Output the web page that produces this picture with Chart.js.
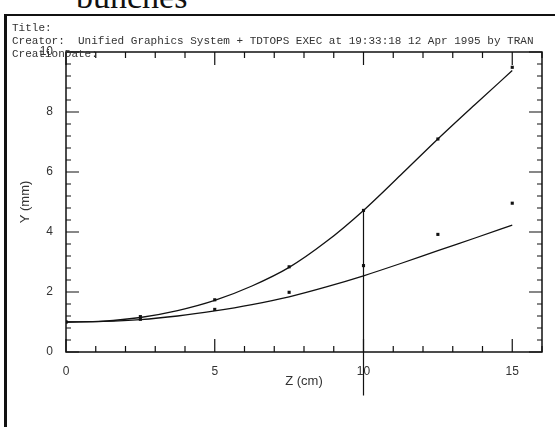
<html lang="en">
<head>
<meta charset="UTF-8">
<title>bunches</title>
<script src="https://cdn.jsdelivr.net/npm/chart.js"></script>
<style>
  body, html {
    margin: 0;
    background: #fff;
  }
  .page {
    position: relative;
    width: 555px;
    height: 427px;
    overflow: hidden;
  }
  .caption {
    position: absolute;
    left: 76px;
    top: -22px;
    font-family: "Liberation Serif", serif;
    font-size: 34px;
    color: #111;
  }
  .frame {
    position: absolute;
    left: 4px;
    top: 14px;
    width: 560px;
    height: 420px;
    border-left: 3px solid #111;
    border-top: 2px solid #111;
  }
  .header {
    position: absolute;
    left: 12px;
    top: 22px;
    font-family: "Liberation Mono", monospace;
    font-size: 11px;
    line-height: 13px;
    color: #333;
    white-space: pre;
  }
  .chart-box {
    position: absolute;
    left: 0;
    top: 0;
    width: 555px;
    height: 427px;
  }
</style>
</head>
<body>
<div class="page">
  <div class="caption">bunches</div>
  <div class="frame"></div>
  <div class="chart-box"><canvas id="envChart"></canvas></div>
  <div class="header">Title:
Creator:  Unified Graphics System + TDTOPS EXEC at 19:33:18 12 Apr 1995 by TRAN
CreationDate:</div>
</div>

<script>
  // fitted curves
  const zCurve     = [0, 1.25, 2.5, 3.75, 5, 6.25, 7.5, 8.75, 10, 11.25, 12.5, 13.75, 15];
  const upperCurve = [1.0, 1.03, 1.15, 1.38, 1.72, 2.2, 2.82, 3.68, 4.72, 5.9, 7.1, 8.25, 9.38];
  const lowerCurve = [1.0, 1.02, 1.08, 1.2, 1.37, 1.58, 1.84, 2.17, 2.54, 2.95, 3.38, 3.8, 4.23];

  // measured points
  const zPoints     = [0, 2.5, 5, 7.5, 10, 12.5, 15];
  const upperPoints = [1.0, 1.18, 1.74, 2.84, 4.72, 7.1, 9.49];
  const lowerPoints = [1.0, 1.09, 1.42, 1.99, 2.88, 3.92, 4.96];

  // vertical marker at z = 10
  const markerZ = [10, 10];
  const markerY = [4.72, -1.45];

  function toXY(xs, ys) {
    return xs.map((x, i) => ({ x: x, y: ys[i] }));
  }

  const ink = '#111';

  // axis box with inward ticks on all four sides
  const frameTicks = {
    id: 'frameTicks',
    afterDraw(chart) {
      const ctx = chart.ctx;
      const ca = chart.chartArea;
      const xs = chart.scales.x;
      const ys = chart.scales.y;
      ctx.save();
      ctx.strokeStyle = ink;
      ctx.lineWidth = 1.5;
      ctx.strokeRect(ca.left, ca.top, ca.right - ca.left, ca.bottom - ca.top);
      ctx.lineWidth = 1.2;
      ctx.beginPath();
      xs.ticks.forEach(t => {
        const px = xs.getPixelForValue(t.value);
        const major = Math.abs(t.value % 5) < 1e-6;
        const len = major ? 13 : 6;
        ctx.moveTo(px, ca.bottom); ctx.lineTo(px, ca.bottom - len);
        ctx.moveTo(px, ca.top); ctx.lineTo(px, ca.top + len);
      });
      ys.ticks.forEach(t => {
        const py = ys.getPixelForValue(t.value);
        const major = Math.abs(t.value - 2 * Math.round(t.value / 2)) < 1e-6;
        const len = major ? 13 : 5;
        ctx.moveTo(ca.left, py); ctx.lineTo(ca.left + len, py);
        ctx.moveTo(ca.right, py); ctx.lineTo(ca.right - len, py);
      });
      ctx.stroke();
      ctx.restore();
    }
  };

  const ctx = document.getElementById('envChart').getContext('2d');
  new Chart(ctx, {
    type: 'scatter',
    data: {
      datasets: [
        {
          data: toXY(zCurve, upperCurve),
          showLine: true,
          borderColor: ink,
          borderWidth: 1.3,
          pointRadius: 0,
          cubicInterpolationMode: 'monotone'
        },
        {
          data: toXY(zCurve, lowerCurve),
          showLine: true,
          borderColor: ink,
          borderWidth: 1.3,
          pointRadius: 0,
          cubicInterpolationMode: 'monotone'
        },
        {
          data: toXY(zPoints, upperPoints),
          pointStyle: 'rect',
          pointRadius: 2.2,
          backgroundColor: ink,
          borderColor: ink,
          borderWidth: 0
        },
        {
          data: toXY(zPoints, lowerPoints),
          pointStyle: 'rect',
          pointRadius: 2.2,
          backgroundColor: ink,
          borderColor: ink,
          borderWidth: 0
        },
        {
          data: toXY(markerZ, markerY),
          showLine: true,
          borderColor: ink,
          borderWidth: 1.2,
          pointRadius: 0,
          clip: false
        }
      ]
    },
    options: {
      responsive: true,
      maintainAspectRatio: false,
      animation: false,
      layout: {
        padding: { left: 18, top: 52, right: 13, bottom: 37 }
      },
      plugins: {
        legend: { display: false },
        tooltip: { enabled: false }
      },
      scales: {
        x: {
          type: 'linear',
          min: 0,
          max: 16,
          afterFit: s => { s.height = 38; },
          grid: { display: false },
          border: { display: false },
          ticks: {
            stepSize: 1,
            autoSkip: false,
            maxRotation: 0,
            padding: 4,
            color: '#333',
            font: { family: 'Liberation Sans', size: 12 },
            callback: v => (v % 5 === 0 && v <= 15 ? String(v) : '')
          },
          title: {
            display: true,
            text: 'Z (cm)',
            color: '#333',
            font: { family: 'Liberation Sans', size: 13 },
            padding: { top: 0, bottom: 1 }
          }
        },
        y: {
          type: 'linear',
          min: 0,
          max: 10,
          afterFit: s => { s.width = 48; },
          grid: { display: false },
          border: { display: false },
          ticks: {
            stepSize: 0.4,
            maxTicksLimit: 60,
            autoSkip: false,
            padding: 5,
            color: '#333',
            font: { family: 'Liberation Sans', size: 12 },
            callback: v => (Math.abs(v - 2 * Math.round(v / 2)) < 1e-6 ? String(Math.round(v)) : '')
          },
          title: {
            display: true,
            text: 'Y (mm)',
            color: '#333',
            font: { family: 'Liberation Sans', size: 13 },
            padding: { top: 0, bottom: 3 }
          }
        }
      }
    },
    plugins: [frameTicks]
  });
</script>
</body>
</html>
